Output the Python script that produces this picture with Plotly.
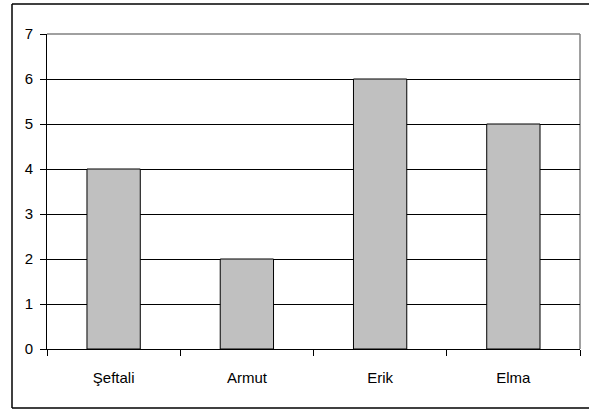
import plotly.graph_objects as go

categories = ["Şeftali", "Armut", "Erik", "Elma"]
values = [4, 2, 6, 5]
y_ticks = [0, 1, 2, 3, 4, 5, 6, 7]

W, H = 589, 413
L, R, T, B = 47, 9, 34, 64
pw, ph = W - L - R, H - T - B

bx0, bx1 = (12 - L) / pw, (W - L) / pw
by0, by1 = (H - B - 408) / ph, (H - B - 4) / ph
border = dict(color="#000000", width=1.5)

fig = go.Figure(go.Bar(
    x=categories, y=values,
    marker=dict(color="#C0C0C0", line=dict(color="#000000", width=1)),
))

fig.update_layout(
    width=W, height=H,
    margin=dict(l=L, r=R, t=T, b=B),
    paper_bgcolor="white", plot_bgcolor="white",
    bargap=0.6, showlegend=False,
    font=dict(family="Liberation Sans, Arial", size=15, color="#000000"),
    xaxis=dict(
        type="category", tickson="boundaries", ticks="outside", ticklen=6,
        tickcolor="#000000", showline=True, linecolor="#000000", linewidth=1,
        showgrid=False, ticklabelstandoff=15, range=[-0.5, 3.5],
    ),
    yaxis=dict(
        range=[0, 7], tickvals=y_ticks, ticks="outside", ticklen=6,
        tickcolor="#000000", showline=True, linecolor="#000000", linewidth=1,
        showgrid=True, gridcolor="#000000", gridwidth=1, zeroline=False,
        ticklabelstandoff=4,
    ),
    shapes=[
        dict(type="line", xref="paper", yref="paper", x0=0, x1=1, y0=1, y1=1,
             line=dict(color="#808080", width=1.5)),
        dict(type="line", xref="paper", yref="paper", x0=1, x1=1, y0=0, y1=1,
             line=dict(color="#808080", width=1.5), layer="below"),
        dict(type="line", xref="paper", yref="paper", x0=bx0, x1=bx1, y0=by1, y1=by1, line=border),
        dict(type="line", xref="paper", yref="paper", x0=bx0, x1=bx1, y0=by0, y1=by0, line=border),
        dict(type="line", xref="paper", yref="paper", x0=bx0, x1=bx0, y0=by0, y1=by1, line=border),
    ],
)

fig.write_html(
    "out.html",
    config={"displayModeBar": False},
    post_script="document.body.style.margin='0';document.body.style.overflow='hidden';",
)
